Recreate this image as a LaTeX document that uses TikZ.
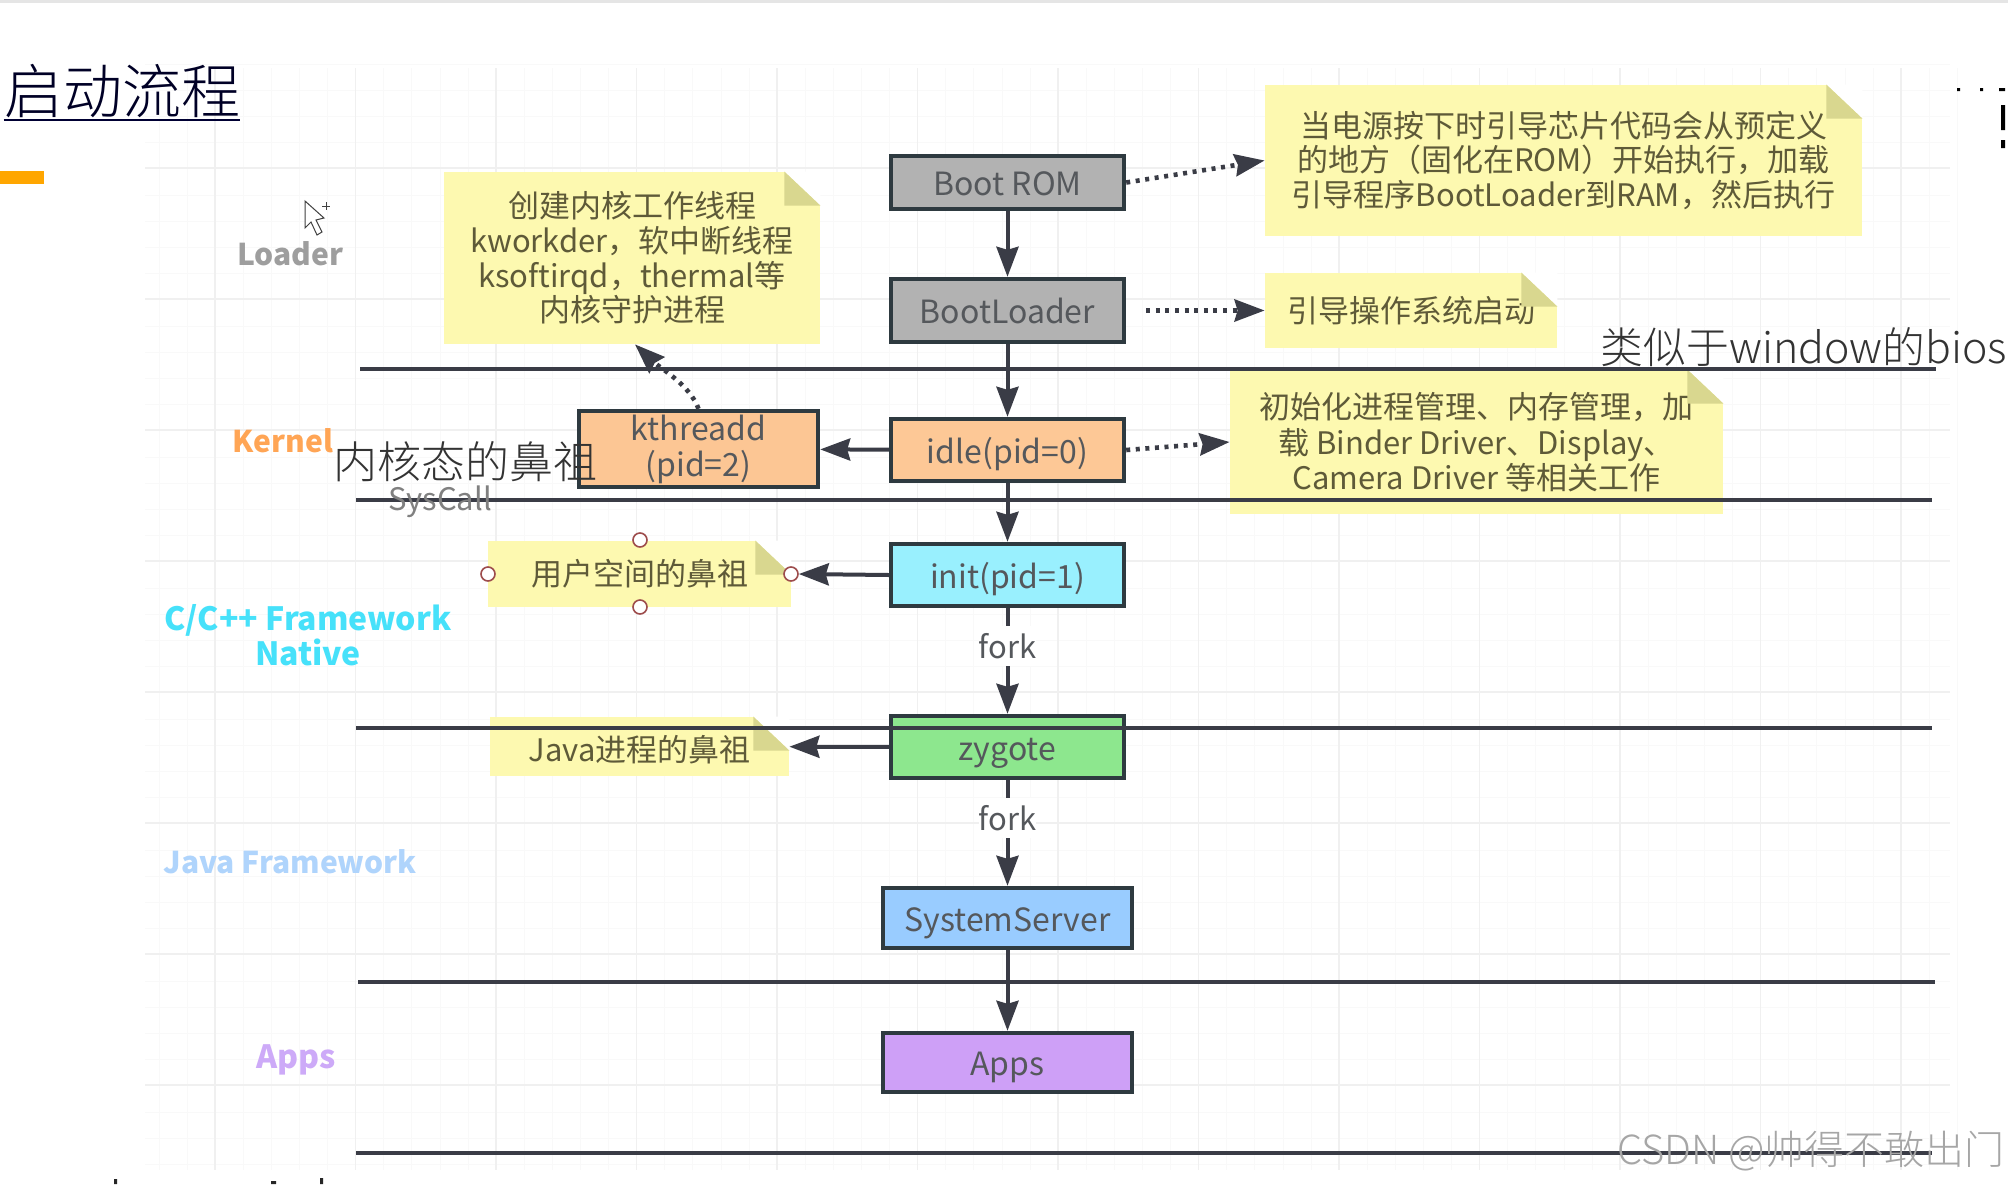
\documentclass[tikz,border=0pt]{standalone}
\usepackage{fontspec}
\setmainfont{Noto Sans CJK SC}
\newfontfamily\lightcjk{Noto Sans CJK SC Light}
\usetikzlibrary{arrows.meta,calc}
\definecolor{ink}{HTML}{3A3C46}
\definecolor{boxline}{HTML}{2E3A40}
\definecolor{txt}{HTML}{55585C}
\definecolor{notefill}{HTML}{FDF9B0}
\definecolor{notefold}{HTML}{D9D78F}
\definecolor{notetxt}{HTML}{5E5A38}
\tikzset{
  x=0.5pt,y=-0.5pt,
  boxnode/.style={draw=boxline,line width=2.2pt,inner sep=0pt,text=txt,align=center,font=\fontsize{16}{18}\selectfont},
  onebox/.style={boxnode,text height=13pt,text depth=0pt},
  notenode/.style={fill=notefill,inner sep=0pt,text=notetxt,align=center,font=\fontsize{15.5}{17.3}\selectfont},
  sidelabel/.style={inner sep=0pt,align=center,font=\fontsize{15}{17}\selectfont\bfseries},
  bigtext/.style={inner sep=0pt,text=black!80,font=\fontsize{22}{26}\selectfont\lightcjk},
  flow/.style={draw=ink,line width=2pt,-{Stealth[length=15pt,width=11pt,inset=1.5pt]}},
  hint/.style={draw=ink,line width=2.3pt,dash pattern=on 2pt off 2.8pt,-{Stealth[length=15pt,width=11pt,inset=1.5pt]}},
  sep/.style={draw=ink,line width=1.9pt},
  handle/.style={circle,draw=red!45!black!70,fill=white,line width=0.8pt,minimum size=7pt,inner sep=0pt},
  forklabel/.style={fill=white,inner sep=0pt,minimum height=20pt,minimum width=26pt,text=txt,font=\fontsize{15.5}{18}\selectfont},
}
\newcommand{\notecorner}[1]{
  \fill[white] ([xshift=-18pt]#1.north east) -- (#1.north east) -- ([yshift=-17pt]#1.north east) -- cycle;
  \fill[notefold] ([xshift=-18pt]#1.north east) -- ([xshift=-18pt,yshift=-17pt]#1.north east) -- ([yshift=-17pt]#1.north east) -- cycle;
}
\begin{document}
\begin{tikzpicture}
\useasboundingbox (0,0) rectangle (2008,1184);
\fill[white] (0,0) rectangle (2008,1184);
\fill[black!10] (0,0) rectangle (2008,3);
% grid
\foreach \k in {0,...,64}{\draw[black!2.5,line width=0.5pt] ({159+28.1*\k},68) -- ({159+28.1*\k},1170);}
\foreach \k in {0,...,42}{\draw[black!2.5,line width=0.5pt] (145,{64+26.2*\k}) -- (1950,{64+26.2*\k});}
\foreach \k in {0,...,12}{\draw[black!6,line width=0.6pt] ({215+140.5*\k},68) -- ({215+140.5*\k},1170);}
\foreach \k in {0,...,7}{\draw[black!6,line width=0.6pt] (145,{168+131*\k}) -- (1950,{168+131*\k});}
% title
\node[inner sep=0pt,text=black!85!blue,font=\fontsize{29.5}{32}\selectfont\lightcjk] (title) at (122,91) {启动流程};
\draw[black!80!blue,line width=1.2pt] (title.west |- 0,120) -- (title.east |- 0,120);
\fill[orange!70!yellow] (0,171) rectangle (44,184);
% cursor
\draw[black!75,fill=white,line width=0.5pt] (305,201) -- (305,228) -- (311,222) -- (317,235) -- (322,232) -- (316,220) -- (324,218) -- cycle;
\draw[black!75,line width=0.5pt] (326,202) -- (326,210) (322,206) -- (330,206);
% corner fragments
\fill[black] (1957,88) rectangle (1960,91) (1980,88) rectangle (1983,91) (1999,88) rectangle (2005,91) (2001,105) rectangle (2005,130) (2001,140) rectangle (2005,148);
\fill[black!85] (114,1179) rectangle (117,1184) (271,1181) rectangle (276,1184) (320,1178) rectangle (323,1184);
% notes
\node[notenode,minimum width=298.5pt,minimum height=75.5pt] (n1) at (1563.5,160.5) {当电源按下时引导芯片代码会从预定义\\的地方（固化在ROM）开始执行，加载\\引导程序BootLoader到RAM，然后执行};
\node[notenode,minimum width=146pt,minimum height=37.5pt] (n2) at (1411,310.5) {引导操作系统启动};
\node[notenode,minimum width=246.5pt,minimum height=72pt] (n3) at (1476.5,442) {\raisebox{1pt}{初始化进程管理、内存管理，加}\\载 Binder Driver、Display、\\Camera Driver 等相关工作};
\node[notenode,minimum width=188pt,minimum height=86pt] (n4) at (632,258) {创建内核工作线程\\kworkder，软中断线程\\ksoftirqd，thermal等\\内核守护进程};
\node[notenode,minimum width=151.5pt,minimum height=33pt] (n5) at (639.5,574) {用户空间的鼻祖};
\node[notenode,minimum width=149.5pt,minimum height=29.5pt,text height=14.5pt,text depth=0pt] (n6) at (639.5,746.5) {Java进程的鼻祖};
\notecorner{n1}\notecorner{n2}\notecorner{n3}\notecorner{n4}\notecorner{n5}\notecorner{n6}
% boxes
\node[onebox,fill=black!30,minimum width=116.5pt,minimum height=26.5pt] (boot) at (1007.5,182.5) {Boot ROM};
\node[onebox,fill=black!30,minimum width=116.5pt,minimum height=31.5pt] (loader) at (1007.5,310.5) {BootLoader};
\node[onebox,fill={rgb,255:red,253;green,200;blue,150},minimum width=116.5pt,minimum height=31pt] (idle) at (1007.5,450) {idle(pid=0)};
\node[boxnode,fill={rgb,255:red,252;green,198;blue,148},minimum width=119.5pt,minimum height=38pt] (kthreadd) at (698.5,449) {\raisebox{-1.6pt}{kthreadd}\\\raisebox{-1.6pt}{(pid=2)}};
\node[onebox,fill={rgb,255:red,153;green,240;blue,254},minimum width=116.5pt,minimum height=31pt] (init) at (1007.5,575) {init(pid=1)};
\node[onebox,fill={rgb,255:red,141;green,231;blue,142},minimum width=116.5pt,minimum height=31pt] (zygote) at (1007.5,747) {zygote};
\node[onebox,fill={rgb,255:red,153;green,204;blue,255},minimum width=124.5pt,minimum height=30pt] (server) at (1007.5,918) {SystemServer};
\node[onebox,fill={rgb,255:red,206;green,160;blue,247},minimum width=124.5pt,minimum height=29.5pt] (apps) at (1007.5,1062.5) {Apps};
% handles of the selected note
\node[handle] (h1) at (640,540) {};
\node[handle] (h2) at (488,574) {};
\node[handle] (h3) at (640,607) {};
\node[handle] (h4) at (791,574) {};
% connectors
\draw[flow] (boot) -- (loader);
\draw[flow] (loader) -- (idle);
\draw[flow] (idle) -- (init);
\draw[flow] (init) -- node[forklabel,pos=0.36] (f1) {fork} (zygote);
\draw[flow] (zygote) -- node[forklabel,pos=0.36] (f2) {fork} (server);
\draw[flow] (server) -- (apps);
\draw[flow] (idle) -- (kthreadd);
\draw[flow] (init.west) -- (h4.east);
\draw[flow] (zygote) -- (n6);
\draw[hint] (boot.east) -- (n1.west);
\draw[hint,shorten <=10pt] (loader.east) -- (n2.west);
\draw[hint] (idle.east) -- (n3.west);
\draw[hint] (kthreadd.north) .. controls (690,385) and (660,368) .. ($(n4.south)+(3,0)$);
% separators
\coordinate (s1a) at (360,369); \coordinate (s1b) at (1936,369);
\coordinate (s2a) at (356,500); \coordinate (s2b) at (1932,500);
\coordinate (s3a) at (356,728); \coordinate (s3b) at (1932,728);
\coordinate (s4a) at (358,982); \coordinate (s4b) at (1935,982);
\coordinate (s5a) at (356,1153); \coordinate (s5b) at (1932,1153);
\draw[sep] (s1a) -- (s1b);
\draw[sep] (s2a) -- (s2b);
\draw[sep] (s3a) -- (s3b);
\draw[sep] (s4a) -- (s4b);
\draw[sep] (s5a) -- (s5b);
% side labels
\node[sidelabel,text=black!38] (lbl1) at (290,254) {Loader};
\node[sidelabel,text={rgb,255:red,255;green,165;blue,85}] (lbl2) at (283,441) {Kernel};
\node[inner sep=0pt,text=black!50,font=\fontsize{15.5}{18}\selectfont] (lbl3) at (440,502) {SysCall};
\node[sidelabel,text={rgb,255:red,70;green,225;blue,250},font=\fontsize{16}{17.5}\selectfont\bfseries] (lbl4) at (308,635) {C/C++ Framework\\Native};
\node[sidelabel,text={rgb,255:red,175;green,212;blue,252}] (lbl5) at (290,862) {Java Framework};
\node[sidelabel,text={rgb,255:red,205;green,170;blue,248},font=\fontsize{16}{18}\selectfont\bfseries] (lbl6) at (296,1060) {Apps};
% overlays
\node[bigtext] (t1) at (465,462) {内核态的鼻祖};
\node[bigtext,font=\fontsize{21.4}{26}\selectfont\lightcjk] (t2) at (1804,347) {类似于window的bios};
\node[inner sep=0pt,text=black!35,font=\fontsize{20}{24}\selectfont\lightcjk] (wm) at (1811,1151) {CSDN @帅得不敢出门};
\end{tikzpicture}
\end{document}
